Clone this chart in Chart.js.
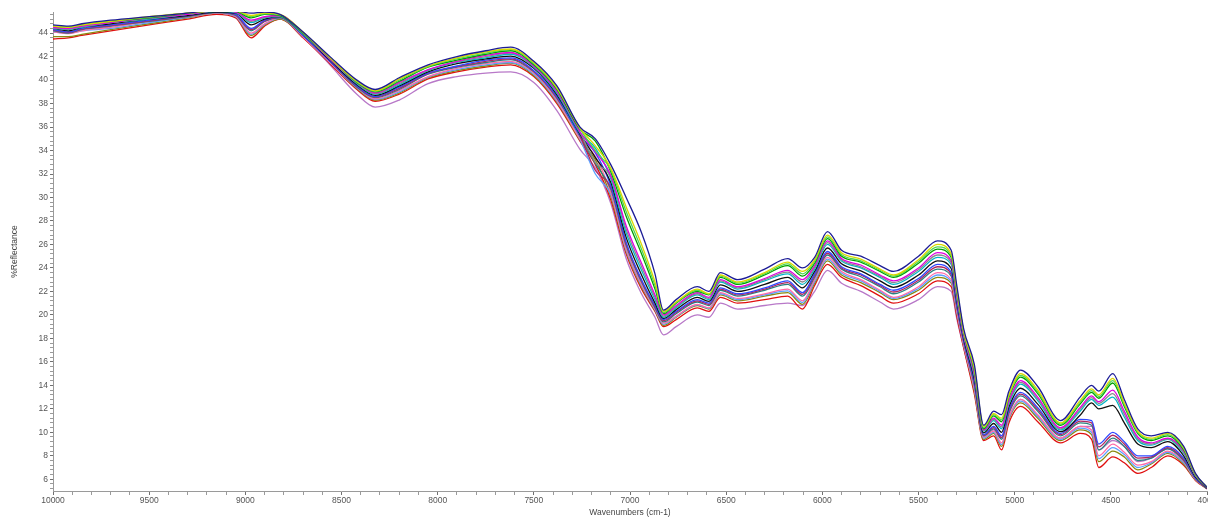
<!DOCTYPE html>
<html>
<head>
<meta charset="utf-8">
<title>NIR spectra</title>
<script src="https://cdn.jsdelivr.net/npm/chart.js@4/dist/chart.umd.min.js"></script>
<style>
  html, body { margin: 0; padding: 0; background: #fff; overflow: hidden; }
  #wrap { width: 1208px; height: 519px; }
</style>
</head>
<body>
<div id="wrap"><canvas id="myChart" width="1208" height="519"></canvas></div>
<script>
const wavenumbers = [10000,9920,9850,9700,9500,9300,9150,9050,8970,8900,8820,8700,8560,8420,8325,8200,8050,7900,7750,7620,7500,7380,7260,7180,7100,7020,6940,6870,6826,6760,6650,6590,6530,6440,6300,6180,6103,6040,5973,5900,5800,5700,5630,5500,5401,5330,5300,5265,5210,5161,5109,5068,5030,4969,4880,4761,4660,4600,4563,4490,4430,4360,4290,4204,4121,4060,4000];

// %Reflectance per sample
const sNavy = [44.7,44.6,44.8,45.1,45.4,45.7,45.95,45.9,45.7,45.8,45.6,44.1,42.0,40.0,39.2,40.2,41.3,42.0,42.5,42.8,41.6,39.5,36.0,35.0,32.8,30.0,27.0,23.5,20.4,21.3,22.4,22.0,23.6,23.0,23.9,24.8,24.0,24.9,27.1,25.5,25.0,24.2,23.7,25.0,26.3,25.5,22.4,18.8,15.8,10.6,11.8,11.5,13.5,15.3,13.9,11.0,13.0,14.0,13.5,15.0,12.8,10.3,9.7,10.0,8.8,6.5,5.3];
const sYellow = [44.6,44.5,44.7,45.0,45.4,45.7,45.9,45.9,45.5,45.7,45.6,44.1,41.9,39.9,39.1,40.1,41.2,41.9,42.4,42.65,41.5,39.35,35.9,34.4,32.5,29.2,26.0,22.8,20.3,21.1,22.2,21.8,23.4,22.8,23.6,24.5,23.7,24.7,26.8,25.3,24.75,23.9,23.4,24.7,26.0,25.2,22.1,18.6,15.55,10.5,11.6,11.2,13.2,15.0,13.6,10.8,12.7,13.7,13.2,14.6,12.5,10.1,9.5,9.9,8.7,6.45,5.3];
const sLime = [44.6,44.5,44.7,45.0,45.35,45.7,45.9,45.9,45.4,45.65,45.55,44.05,41.9,39.85,39.05,40.0,41.15,41.8,42.3,42.6,41.4,39.3,35.85,34.0,32.35,28.8,25.6,22.5,20.2,21.05,22.1,21.75,23.3,22.7,23.5,24.35,23.5,24.55,26.65,25.15,24.6,23.8,23.3,24.55,25.8,25.05,22.0,18.55,15.4,10.4,11.5,11.05,13.1,14.85,13.45,10.7,12.55,13.55,13.05,14.4,12.35,10.0,9.4,9.8,8.6,6.4,5.3];
const sGreen = [44.6,44.5,44.7,45.0,45.3,45.7,45.9,45.85,45.3,45.6,45.5,44.0,41.9,39.8,39.0,39.9,41.1,41.7,42.2,42.5,41.3,39.2,35.8,34.8,32.2,28.4,25.2,22.2,20.1,21.0,22.0,21.7,23.2,22.6,23.4,24.2,23.3,24.4,26.5,25.0,24.5,23.7,23.2,24.4,25.6,24.9,21.9,18.5,15.3,10.3,11.4,10.9,13.0,14.7,13.3,10.6,12.4,13.4,12.9,14.2,12.2,9.9,9.3,9.7,8.5,6.4,5.3];
const sMagenta = [44.5,44.4,44.6,44.9,45.3,45.6,45.9,45.8,45.1,45.4,45.5,44.0,41.8,39.8,38.9,39.8,40.9,41.6,42.1,42.35,41.2,39.05,35.6,33.9,31.9,27.6,24.4,21.7,20.0,20.8,21.9,21.5,23.0,22.4,23.1,23.8,23.0,24.2,26.3,24.8,24.25,23.4,22.9,24.0,25.3,24.6,21.6,18.3,15.05,10.2,11.2,10.6,12.7,14.4,13.0,10.4,12.1,13.1,12.6,13.6,11.8,9.6,9.1,9.5,8.4,6.35,5.3];
const sGrey = [44.45,44.35,44.55,44.9,45.25,45.6,45.9,45.8,45.0,45.35,45.45,43.95,41.8,39.75,38.85,39.7,40.85,41.55,42.0,42.3,41.15,39.0,35.55,33.0,31.75,27.3,24.1,21.5,19.9,20.7,21.8,21.4,22.9,22.3,23.0,23.65,22.8,24.05,26.15,24.7,24.1,23.3,22.75,23.85,25.1,24.45,21.45,18.25,14.9,10.15,11.1,10.45,12.55,14.25,12.85,10.3,11.95,12.95,12.45,13.3,11.55,9.45,9.0,9.45,8.3,6.3,5.3];
const sCyan = [44.4,44.3,44.5,44.9,45.2,45.6,45.85,45.75,44.9,45.3,45.4,43.9,41.8,39.7,38.8,39.6,40.8,41.5,41.9,42.2,41.1,38.9,35.5,34.2,31.6,27.0,23.8,21.3,19.8,20.6,21.7,21.3,22.8,22.2,22.9,23.5,22.6,23.9,26.0,24.6,24.0,23.2,22.6,23.7,24.9,24.3,21.3,18.2,14.8,10.1,11.0,10.3,12.4,14.1,12.7,10.2,11.8,12.8,12.3,13.0,11.3,9.3,8.9,9.4,8.2,6.3,5.3];
const sBlack = [44.4,44.2,44.5,44.8,45.2,45.5,45.8,45.7,44.7,45.2,45.4,43.9,41.7,39.6,38.7,39.5,40.7,41.4,41.8,42.05,41.0,38.75,35.4,33.4,31.3,26.6,23.4,21.0,19.7,20.45,21.5,21.15,22.55,22.0,22.6,23.2,22.3,23.7,25.7,24.35,23.75,22.9,22.35,23.4,24.6,23.95,21.1,18.0,14.55,9.95,10.75,10.0,12.15,13.75,12.4,10.05,11.45,12.5,12.0,12.3,10.8,9.0,8.7,9.2,8.0,6.2,5.25];
const sBlue = [44.3,44.1,44.4,44.7,45.1,45.5,45.8,45.6,44.4,45.1,45.4,43.8,41.6,39.5,38.6,39.4,40.6,41.2,41.7,41.9,40.8,38.6,35.3,33.8,31.0,26.2,23.0,20.8,19.6,20.3,21.3,21.0,22.3,21.8,22.3,22.9,21.9,23.5,25.4,24.1,23.5,22.6,22.1,23.1,24.3,23.6,20.8,17.8,14.3,9.8,10.5,9.7,11.9,13.4,12.1,9.9,11.1,11.0,9.0,10.0,9.2,8.0,8.0,8.8,7.8,6.1,5.25];
const sMaroon = [44.25,44.05,44.35,44.65,45.05,45.45,45.8,45.55,44.3,45.05,45.35,43.8,41.6,39.45,38.55,39.3,40.55,41.15,41.6,41.8,40.75,38.5,35.25,32.3,30.85,26.05,22.9,20.7,19.5,20.2,21.2,20.9,22.2,21.7,22.2,22.75,21.75,23.35,25.25,24.0,23.4,22.5,21.95,22.95,24.1,23.45,20.7,17.75,14.2,9.75,10.4,9.55,11.75,13.25,11.95,9.8,10.95,10.8,8.75,9.75,9.0,7.8,7.9,8.7,7.7,6.1,5.2];
const sTeal = [44.2,44.0,44.3,44.6,45.0,45.4,45.75,45.5,44.2,45.0,45.3,43.8,41.6,39.4,38.5,39.2,40.5,41.1,41.5,41.75,40.7,38.45,35.2,32.9,30.7,25.9,22.8,20.6,19.4,20.1,21.1,20.8,22.1,21.6,22.1,22.6,21.6,23.2,25.1,23.9,23.25,22.4,21.8,22.8,23.9,23.3,20.6,17.7,14.05,9.7,10.3,9.4,11.6,13.1,11.8,9.7,10.8,10.6,8.5,9.5,8.8,7.6,7.8,8.6,7.6,6.05,5.2];
const sPink = [44.1,43.95,44.2,44.5,45.0,45.4,45.7,45.45,44.0,44.8,45.3,43.7,41.5,39.4,38.4,39.1,40.3,41.0,41.4,41.6,40.6,38.3,35.0,33.5,30.4,25.6,22.6,20.5,19.3,19.9,20.9,20.6,21.9,21.4,21.8,22.2,21.2,23.0,24.9,23.7,23.0,22.1,21.5,22.4,23.6,23.0,20.3,17.5,13.8,9.6,10.1,9.1,11.3,12.8,11.5,9.5,10.5,10.2,8.0,9.0,8.3,7.2,7.5,8.4,7.5,6.0,5.2];
const sSky = [44.1,44.0,44.2,44.4,44.9,45.35,45.7,45.4,43.9,44.75,45.25,43.7,41.5,39.35,38.35,39.0,40.25,40.9,41.3,41.5,40.5,38.2,34.95,32.0,30.25,25.5,22.5,20.45,19.2,19.85,20.85,20.55,21.8,21.3,21.7,22.05,21.05,22.85,24.75,23.55,22.9,22.0,21.4,22.25,23.4,22.85,20.2,17.45,13.7,9.5,10.0,8.95,11.2,12.65,11.35,9.4,10.35,10.0,7.75,8.7,8.1,7.0,7.4,8.3,7.4,6.0,5.2];
const sOlive = [43.7,43.7,43.9,44.3,44.8,45.3,45.7,45.4,43.8,44.7,45.2,43.7,41.5,39.3,38.3,38.9,40.2,40.8,41.2,41.45,40.4,38.15,34.9,33.2,30.1,25.4,22.4,20.4,19.1,19.8,20.8,20.5,21.7,21.2,21.6,21.9,20.9,22.7,24.6,23.4,22.75,21.9,21.3,22.1,23.2,22.7,20.1,17.4,13.55,9.4,9.9,8.8,11.1,12.5,11.2,9.3,10.2,9.8,7.5,8.4,7.9,6.8,7.3,8.2,7.3,5.95,5.2];
const sRed = [43.5,43.6,43.8,44.2,44.7,45.2,45.6,45.3,43.6,44.6,45.2,43.6,41.4,39.2,38.2,38.8,40.1,40.7,41.1,41.3,40.3,38.0,34.8,32.8,29.8,25.2,22.2,20.3,19.0,19.6,20.6,20.3,21.5,21.0,21.3,21.6,20.5,22.5,24.3,23.2,22.5,21.6,21.0,21.8,22.9,22.4,19.8,17.2,13.3,9.3,9.7,8.5,10.8,12.2,10.9,9.1,9.9,9.4,7.0,7.9,7.4,6.5,7.0,8.0,7.2,5.9,5.2];
const sPlum = [44.2,44.0,44.3,44.6,45.0,45.4,45.7,45.5,44.3,45.0,45.3,43.7,41.3,38.8,37.7,38.3,39.7,40.3,40.6,40.7,39.8,37.4,34.1,32.5,29.5,24.8,21.8,19.8,18.3,19.0,20.0,19.8,21.0,20.5,20.8,21.0,20.8,22.0,23.8,22.7,22.0,21.1,20.5,21.3,22.4,22.0,19.6,17.2,13.5,9.6,10.2,9.5,11.2,12.8,11.4,9.5,10.5,10.5,8.5,9.3,8.8,7.5,7.8,8.6,7.6,6.1,5.2];

const series = [
  { values: sNavy, color: '#1c1c96' },
  { values: sYellow, color: '#d8d800' },
  { values: sLime, color: '#50d850' },
  { values: sGreen, color: '#00a000' },
  { values: sMagenta, color: '#e000e0' },
  { values: sGrey, color: '#8a8a8a' },
  { values: sCyan, color: '#00b8c8' },
  { values: sBlack, color: '#101010' },
  { values: sBlue, color: '#3048ff' },
  { values: sMaroon, color: '#b02860' },
  { values: sTeal, color: '#2a8080' },
  { values: sPink, color: '#ff6aa8' },
  { values: sSky, color: '#5aa0ff' },
  { values: sOlive, color: '#8a8a10' },
  { values: sRed, color: '#e01010' },
  { values: sPlum, color: '#b878c8' }
];

// Axis ranges and tick steps
const xMin = 4000, xMax = 10000, xStep = 100, xLabelEvery = 500;
const yMin = 5, yMax = 45.8, yStep = 0.4, yLabelEvery = 2;

const isMultiple = (v, m) => Math.abs(v / m - Math.round(v / m)) < 1e-6;

document.addEventListener('DOMContentLoaded', () => {
  const ctx = document.getElementById('myChart').getContext('2d');
  const axisFont = { family: "'Liberation Sans', Arial, sans-serif", size: 8.5 };

  new Chart(ctx, {
    type: 'line',
    data: {
      datasets: series.map(s => ({
        data: wavenumbers.map((x, i) => ({ x: x, y: s.values[i] })),
        borderColor: s.color,
        borderWidth: 1.3,
        pointRadius: 0,
        fill: false,
        cubicInterpolationMode: 'monotone'
      }))
    },
    options: {
      responsive: false,
      animation: false,
      layout: { padding: { top: 12, right: 1, left: 0, bottom: 0 } },
      plugins: {
        legend: { display: false },
        tooltip: { enabled: false }
      },
      scales: {
        x: {
          type: 'linear',
          reverse: true,
          min: xMin,
          max: xMax,
          border: { color: '#9a9a9a', width: 1 },
          grid: {
            drawOnChartArea: false,
            tickLength: 4,
            tickColor: c => isMultiple(c.tick.value, xLabelEvery) ? '#707070' : '#9a9a9a'
          },
          ticks: {
            stepSize: xStep,
            autoSkip: false,
            maxRotation: 0,
            padding: 1,
            color: '#555',
            font: axisFont,
            callback: v => isMultiple(v, xLabelEvery) ? String(v) : ''
          },
          title: {
            display: true,
            text: 'Wavenumbers (cm-1)',
            color: '#444',
            font: axisFont,
            padding: { top: 0, bottom: 1 }
          },
          afterFit: scale => {
            scale.height = 28;
            scale.paddingLeft = 0;
            scale.paddingRight = 0;
          }
        },
        y: {
          min: yMin,
          max: yMax,
          border: { color: '#9a9a9a', width: 1 },
          grid: {
            drawOnChartArea: false,
            tickLength: 3,
            tickColor: c => isMultiple(c.tick.value, yLabelEvery) ? '#707070' : '#9a9a9a'
          },
          ticks: {
            autoSkip: false,
            padding: 2,
            color: '#555',
            font: axisFont,
            callback: v => isMultiple(v, yLabelEvery) ? String(Math.round(v)) : ''
          },
          // minor ticks on multiples of 0.4 so the even labels line up
          afterBuildTicks: scale => {
            const ticks = [];
            for (let k = Math.ceil(yMin / yStep); k * yStep <= yMax; k++) {
              ticks.push({ value: Math.round(k * yStep * 10) / 10 });
            }
            scale.ticks = ticks;
          },
          title: {
            display: true,
            text: '%Reflectance',
            color: '#444',
            font: axisFont,
            padding: { top: 10, bottom: 0 }
          },
          afterFit: scale => {
            scale.width = 53;
            scale.paddingTop = 0;
            scale.paddingBottom = 0;
          }
        }
      }
    }
  });
});
</script>
</body>
</html>
